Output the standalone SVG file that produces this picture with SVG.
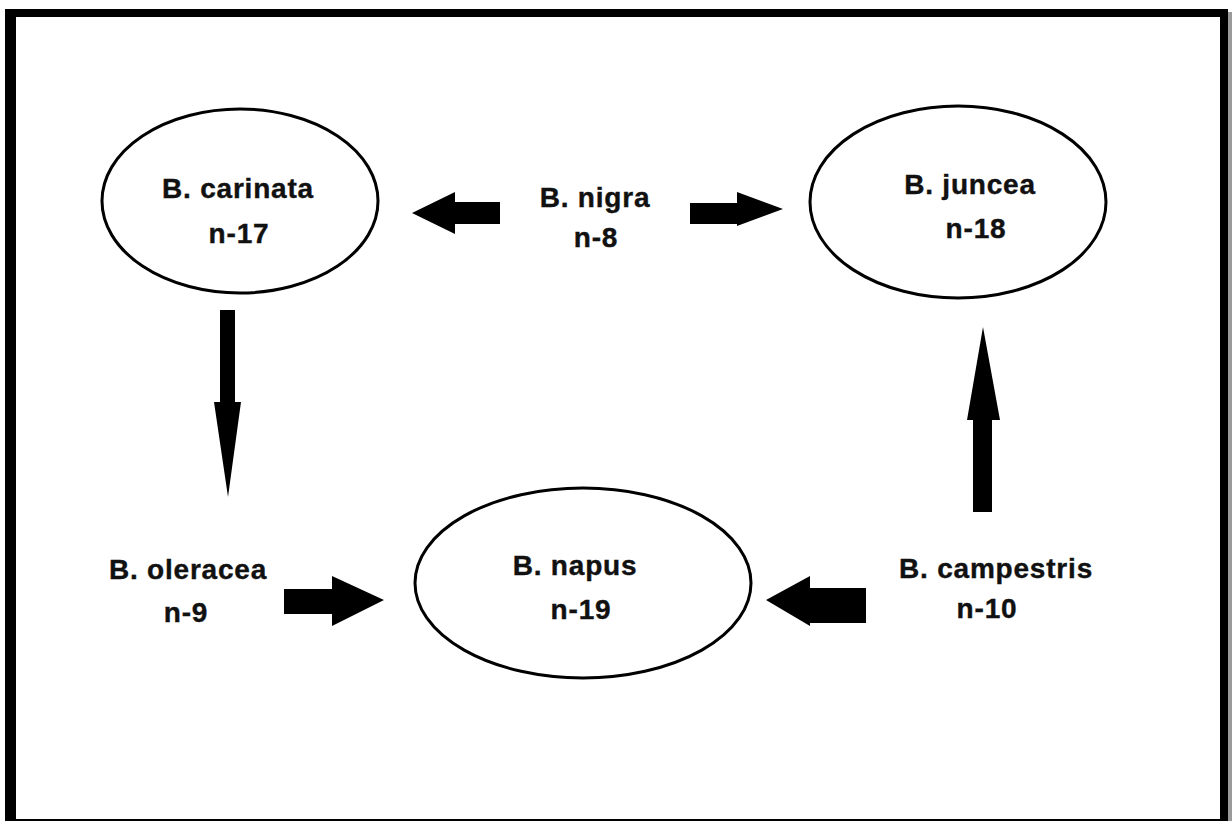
<svg xmlns="http://www.w3.org/2000/svg" width="1232" height="821" viewBox="0 0 1232 821">
<style>
.node ellipse{fill:#fff;stroke:#000;stroke-width:3}
text{font-family:"Liberation Sans",Arial,sans-serif;font-weight:bold;font-size:28px;letter-spacing:0.8px;fill:#111;stroke:#111;stroke-width:0.4;text-anchor:middle}
.conn path{fill:#000;stroke:none}
</style>
<rect x="0" y="0" width="1232" height="821" fill="#fff"/>
<g id="frame">
<rect x="1228" y="12" width="4" height="809" fill="#9a9a9a"/>
<path d="M5,9H1228V821H5Z M16,17V819H1220V17Z" fill="#000" fill-rule="evenodd"/>
</g>
<g id="carinata" class="node">
<ellipse cx="240" cy="201" rx="138" ry="92"/>
<text x="238" y="198">B. carinata</text>
<text x="239" y="243">n-17</text>
</g>
<g id="juncea" class="node">
<ellipse cx="958" cy="202" rx="148" ry="96"/>
<text x="970" y="194">B. juncea</text>
<text x="976" y="238">n-18</text>
</g>
<g id="napus" class="node">
<ellipse cx="583" cy="583" rx="168" ry="95"/>
<text x="575" y="575">B. napus</text>
<text x="581" y="619">n-19</text>
</g>
<g id="nigra">
<text x="595" y="207">B. nigra</text>
<text x="596" y="247">n-8</text>
</g>
<g id="oleracea">
<text x="188" y="579">B. oleracea</text>
<text x="186" y="622">n-9</text>
</g>
<g id="campestris">
<text x="996" y="578">B. campestris</text>
<text x="987" y="618">n-10</text>
</g>
<g id="connectors" class="conn">
<path d="M500,202V224H455V234L412,213L455,192V202Z"/>
<path d="M690,203H737V192L783,209L737,226V224H690Z"/>
<path d="M220,310H235V402H241L228,497L214,402H220Z"/>
<path d="M973,512V420H967L983,327L1000,420H992V512Z"/>
<path d="M284,589H332V576L384,600L332,626V614H284Z"/>
<path d="M866,588V623H810V626L766,600L810,576V588Z"/>
</g>
</svg>
